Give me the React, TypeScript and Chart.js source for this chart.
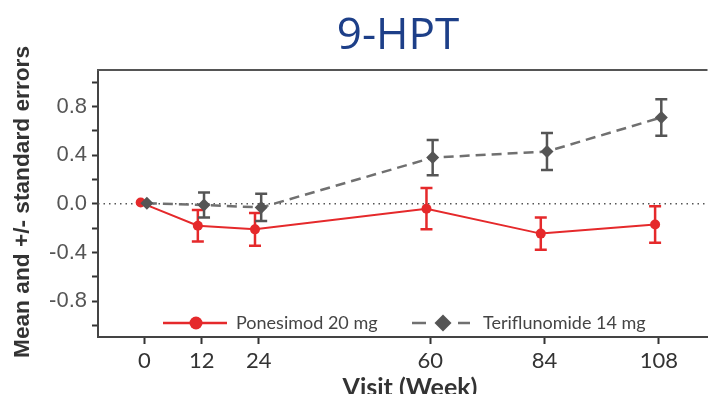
import React, { useEffect, useRef } from "react";
import { Chart, registerables } from "chart.js";

Chart.register(...registerables);

// ---- data ----
const TITLE = "9-HPT";
const X_TITLE = "Visit (Week)";
const Y_TITLE = "Mean and +/- standard errors";
const WEEKS = [0, 12, 24, 60, 84, 108];
const X_TICKS = [0, 12, 24, 60, 84, 108];
const Y_LABELED_TICKS = [0.8, 0.4, 0, -0.4, -0.8];
const PONESIMOD_LABEL = "Ponesimod 20 mg";
const PONESIMOD_MEAN = [0.01, -0.18, -0.21, -0.04, -0.245, -0.17];
const PONESIMOD_SE = [0, 0.13, 0.135, 0.17, 0.133, 0.15];
const TERI_LABEL = "Teriflunomide 14 mg";
const TERI_MEAN = [0.005, -0.01, -0.03, 0.38, 0.43, 0.71];
const TERI_SE = [0, 0.102, 0.112, 0.145, 0.152, 0.15];
const PONESIMOD_DODGE = -0.8;
const TERI_DODGE = 0.5;
const X_MIN = -9.76;
const X_MAX = 118.2;
const Y_MIN = -1.095;
const Y_MAX = 1.1;

const RED = "#e5292b";
const GRAY_LINE = "#707070";
const GRAY_MARK = "#555555";

const decor = {
  id: "decor",
  beforeDatasetsDraw(chart: any) {
    const { ctx, chartArea: a, scales } = chart;
    const xs = scales.x;
    const ys = scales.y;
    ctx.save();
    // zero reference line
    const y0 = ys.getPixelForValue(0);
    ctx.strokeStyle = "#555";
    ctx.lineWidth = 1.5;
    ctx.setLineDash([1.5, 4]);
    ctx.beginPath();
    ctx.moveTo(a.left, y0);
    ctx.lineTo(a.right, y0);
    ctx.stroke();
    ctx.setLineDash([]);
    // error bars
    chart.data.datasets.forEach((ds: any) => {
      ctx.strokeStyle = ds.errColor;
      ctx.lineWidth = 2.5;
      ds.data.forEach((p: any, i: number) => {
        const se = ds.errors[i];
        if (!se) return;
        const px = xs.getPixelForValue(p.x);
        const yt = ys.getPixelForValue(p.y + se);
        const yb = ys.getPixelForValue(p.y - se);
        ctx.beginPath();
        ctx.moveTo(px, yt);
        ctx.lineTo(px, yb);
        ctx.moveTo(px - 6, yt);
        ctx.lineTo(px + 6, yt);
        ctx.moveTo(px - 6, yb);
        ctx.lineTo(px + 6, yb);
        ctx.stroke();
      });
    });
    ctx.restore();
  },
  afterDraw(chart: any) {
    const { ctx, chartArea: a } = chart;
    ctx.save();
    // top border
    ctx.strokeStyle = "#555";
    ctx.lineWidth = 2;
    ctx.beginPath();
    ctx.moveTo(a.left - 1, a.top);
    ctx.lineTo(a.right, a.top);
    ctx.stroke();

    // title
    ctx.fillStyle = "#1d3f88";
    ctx.font = "44px 'Open Sans'";
    ctx.textAlign = "center";
    ctx.textBaseline = "alphabetic";
    ctx.fillText(TITLE, 398, 49);

    // x title
    ctx.fillStyle = "#333";
    ctx.font = "bold 25px Lato";
    ctx.fillText(X_TITLE, 410, 396);

    // y title
    ctx.save();
    ctx.translate(23, 202);
    ctx.rotate(-Math.PI / 2);
    ctx.font = "bold 22.7px 'Liberation Sans'";
    ctx.textBaseline = "middle";
    ctx.fillText(Y_TITLE, 0, 0);
    ctx.restore();

    // legend
    const ly = a.bottom - 14;
    const ds = chart.data.datasets;
    ctx.textAlign = "left";
    ctx.textBaseline = "middle";
    ctx.font = "18px Lato";
    // red
    ctx.strokeStyle = RED;
    ctx.lineWidth = 2.5;
    ctx.beginPath();
    ctx.moveTo(a.left + 65, ly);
    ctx.lineTo(a.left + 129, ly);
    ctx.stroke();
    ctx.fillStyle = RED;
    ctx.beginPath();
    ctx.arc(a.left + 98, ly, 6.5, 0, Math.PI * 2);
    ctx.fill();
    ctx.fillStyle = "#444";
    ctx.fillText(ds[0].label, a.left + 138, ly);
    // gray
    ctx.strokeStyle = GRAY_LINE;
    ctx.beginPath();
    ctx.moveTo(a.left + 314, ly);
    ctx.lineTo(a.left + 328, ly);
    ctx.moveTo(a.left + 360, ly);
    ctx.lineTo(a.left + 372, ly);
    ctx.stroke();
    ctx.fillStyle = GRAY_MARK;
    const dx = a.left + 345;
    ctx.beginPath();
    ctx.moveTo(dx, ly - 8.5);
    ctx.lineTo(dx + 8.5, ly);
    ctx.lineTo(dx, ly + 8.5);
    ctx.lineTo(dx - 8.5, ly);
    ctx.closePath();
    ctx.fill();
    ctx.fillStyle = "#444";
    ctx.fillText(ds[1].label, a.left + 385, ly);
    ctx.restore();
  },
};

export default function App() {
  const ref = useRef<HTMLCanvasElement | null>(null);
  useEffect(() => {
    if (!ref.current) return;
    const chart = new Chart(ref.current, {
      type: "line",
      data: {
        datasets: [
          {
            label: PONESIMOD_LABEL,
            data: WEEKS.map((w, i) => ({ x: w + PONESIMOD_DODGE, y: PONESIMOD_MEAN[i] })),
            errors: PONESIMOD_SE,
            errColor: RED,
            borderColor: RED,
            backgroundColor: RED,
            borderWidth: 2,
            pointStyle: "circle",
            pointRadius: 5,
            pointBorderWidth: 0,
            order: 1,
          } as any,
          {
            label: TERI_LABEL,
            data: WEEKS.map((w, i) => ({ x: w + TERI_DODGE, y: TERI_MEAN[i] })),
            errors: TERI_SE,
            errColor: GRAY_MARK,
            borderColor: GRAY_LINE,
            backgroundColor: GRAY_MARK,
            borderWidth: 2.5,
            borderDash: [10, 6],
            pointStyle: "rectRot",
            pointRadius: 6.5,
            pointBorderWidth: 0,
            order: 0,
          } as any,
        ],
      },
      options: {
        animation: false,
        responsive: false,
        events: [],
        layout: { padding: { top: 70, left: 0, right: 0, bottom: 0 } },
        plugins: {
          legend: { display: false },
          title: { display: false },
          tooltip: { enabled: false },
        },
        scales: {
          x: {
            type: "linear",
            min: X_MIN,
            max: X_MAX,
            afterBuildTicks: (s: any) => {
              s.ticks = X_TICKS.map((v) => ({ value: v }));
            },
            afterFit: (s: any) => {
              s.height = 57;
              s.paddingLeft = 0;
              s.paddingRight = 0;
            },
            grid: { display: true, drawOnChartArea: false, tickLength: 7, tickWidth: 2, tickColor: "#333" },
            border: { display: true, color: "#444", width: 2 },
            ticks: {
              color: "#333",
              font: { family: "Lato", size: 22 },
              padding: 4,
              autoSkip: false,
              maxRotation: 0,
              callback: (v: any) => String(v),
            },
          },
          y: {
            type: "linear",
            min: Y_MIN,
            max: Y_MAX,
            afterFit: (s: any) => {
              s.width = 98;
              s.paddingTop = 0;
              s.paddingBottom = 0;
            },
            grid: { display: true, drawOnChartArea: false, tickLength: 6, tickWidth: 2, tickColor: "#333" },
            border: { display: true, color: "#444", width: 2 },
            ticks: {
              stepSize: 0.2,
              includeBounds: false,
              autoSkip: false,
              color: "#555",
              font: { family: "Liberation Sans", size: 22 },
              padding: 5,
              callback: (v: any) => {
                const n = Number(v);
                return Y_LABELED_TICKS.some((t) => Math.abs(t - n) < 1e-6)
                  ? (Math.round(n * 10) / 10).toFixed(1)
                  : "";
              },
            },
          },
        },
      },
      plugins: [decor],
    });
    return () => chart.destroy();
  }, []);
  return (
    <div style={{ position: "absolute", left: 0, top: 0, width: 714, height: 394, background: "#fff" }}>
      <canvas ref={ref} width={714} height={394} style={{ display: "block" }} />
    </div>
  );
}
